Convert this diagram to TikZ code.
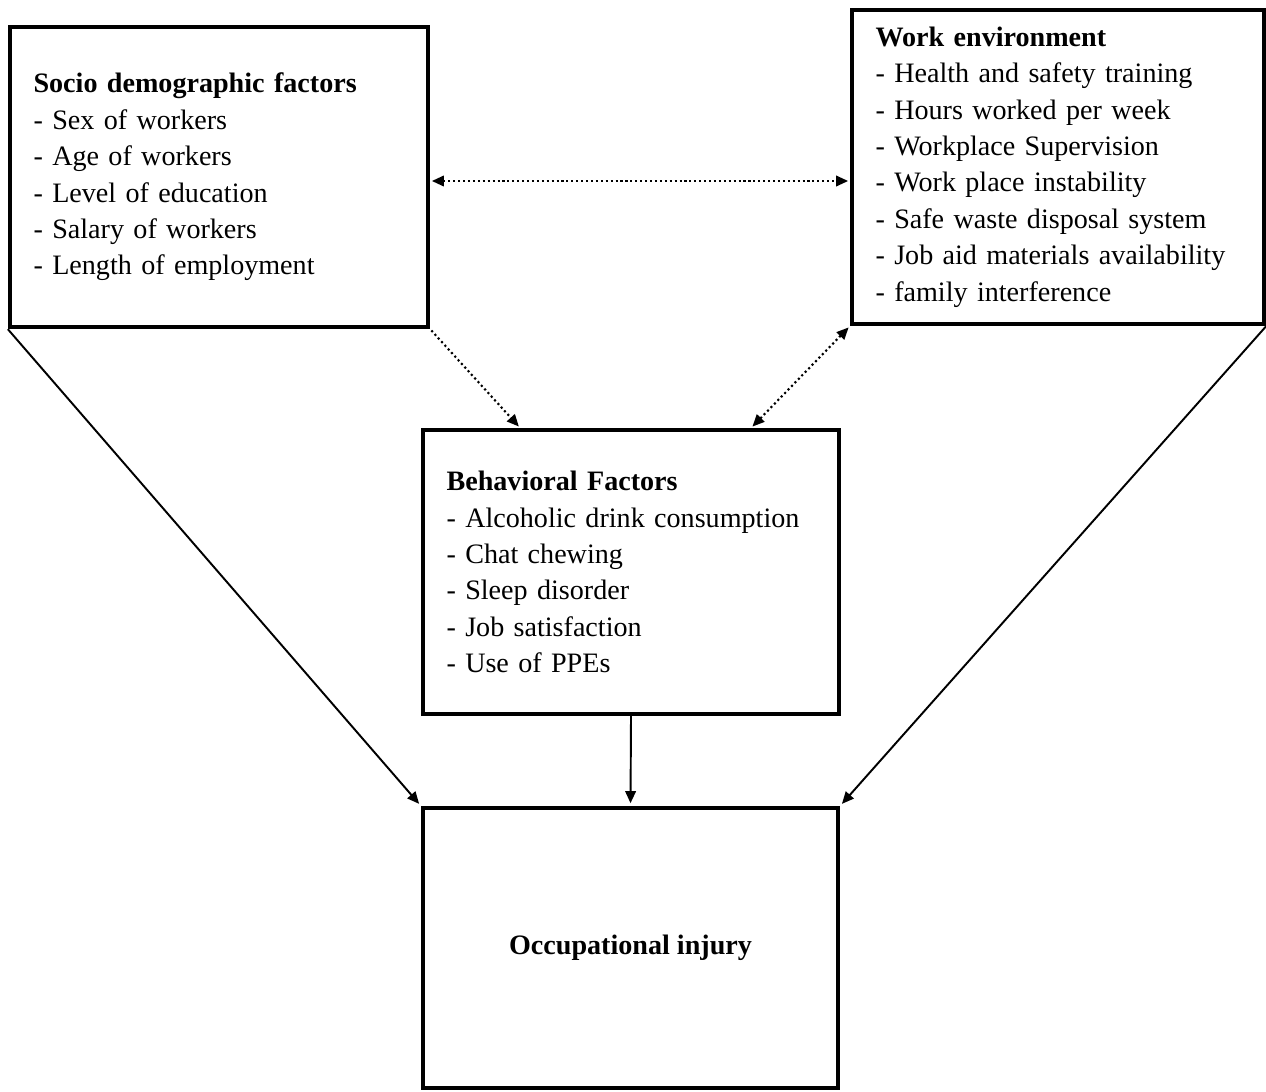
\documentclass[tikz,border=0pt]{standalone}
\usepackage{fontspec}
\setmainfont{Liberation Serif}
\usepackage{tikz}
\usetikzlibrary{arrows.meta,positioning,calc}
\hyphenpenalty=10000

\begin{document}
\begin{tikzpicture}[
  x=0.02cm, y=-0.02cm,
  font=\fontsize{16}{20.7}\selectfont,
  box/.style={draw, rectangle, align=left, inner xsep=0.47cm, line width=2.5pt},
  >={Triangle[length=2.4mm, width=2.1mm]},
  arrline/.style={->, line width=1.1pt, shorten >=1.5pt},
  dotline/.style={line width=1.2pt, dash pattern=on 1.2pt off 1.6pt, shorten >=1pt, shorten <=1pt},
]
\useasboundingbox (0,0) rectangle (1266,1091);
\node[box, minimum width=8.36cm, minimum height=6.0cm, text width=7.42cm] (socio) at (219,177)
  {\textbf{Socio demographic factors}\\- Sex of workers\\- Age of workers\\- Level of education\\- Salary of workers\\- Length of employment};
\node[box, minimum width=8.24cm, minimum height=6.28cm, text width=7.3cm] (workenv) at (1058,167)
  {\textbf{Work environment}\\- Health and safety training\\- Hours worked per week\\- Workplace Supervision\\- Work place instability\\- Safe waste disposal system\\- Job aid materials availability\\- family interference};
\node[box, minimum width=8.32cm, minimum height=5.68cm, text width=7.38cm] (behav) at (631,572)
  {\textbf{Behavioral Factors}\\- Alcoholic drink consumption\\- Chat chewing\\- Sleep disorder\\- Job satisfaction\\- Use of PPEs};
\node[box, align=center, minimum width=8.3cm, minimum height=5.6cm] (injury) at (630.5,948)
  {\textbf{Occupational injury}};
% dotted links between the factor groups
\draw[dotline, <->] ([yshift=-0.08cm]socio.east) -- ([yshift=-0.08cm]socio.east -| workenv.west);
\draw[dotline, ->] (socio.south east) -- ($(behav.north west)!0.236!(behav.north east)$);
\draw[dotline, <->] (workenv.south west) -- ($(behav.north west)!0.786!(behav.north east)$);
% solid arrows to the outcome
\draw[arrline] (socio.south west) -- (injury.north west);
\draw[arrline] (workenv.south east) -- (injury.north east);
\draw[arrline] (behav.south) -- (injury.north);
\end{tikzpicture}
\end{document}
